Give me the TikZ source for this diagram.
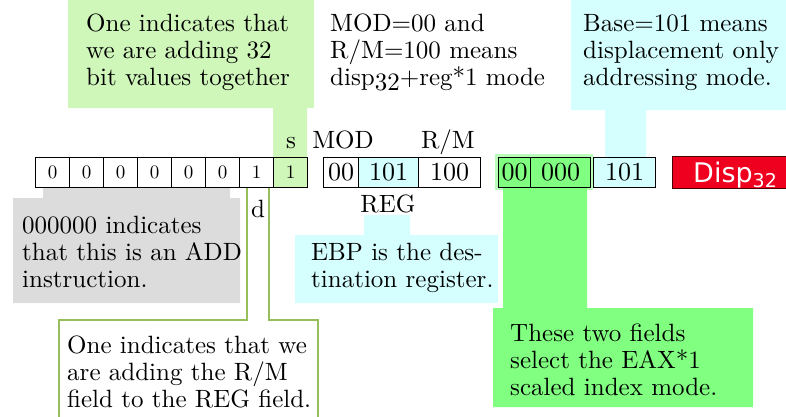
\documentclass[tikz,border=0pt]{standalone}
\usepackage{fontspec}
\setmainfont{lmroman10-regular.otf}[
  BoldFont=lmroman10-bold.otf, ItalicFont=lmroman10-italic.otf]
\newfontfamily\dispfont{DejaVu Sans}
\definecolor{palegreen}{RGB}{208,247,186}
\definecolor{brightgreen}{RGB}{128,255,128}
\definecolor{palecyan}{RGB}{213,255,255}
\definecolor{palegray}{RGB}{220,220,220}
\definecolor{dispred}{RGB}{238,0,30}
\definecolor{olive}{RGB}{150,190,90}
\tikzset{
  % multi-line notes are placed by the baseline of their last line
  note/.style={anchor=base west, inner sep=0pt, align=left,
    font=\fontsize{25}{27}\selectfont},
  lbl/.style={anchor=base, inner sep=0pt, font=\fontsize{25}{27}\selectfont},
  bitcell/.style={draw=black, line width=1.2pt, anchor=north west,
    minimum width=34pt, minimum height=30pt, inner sep=0pt,
    font=\fontsize{19}{20}\selectfont},
  fieldcell/.style={draw=black, line width=1.2pt, anchor=north west,
    minimum height=30pt, inner sep=0pt,
    font=\fontsize{26}{28}\selectfont},
}
\begin{document}
\begin{tikzpicture}[x=1pt,y=-1pt]
\useasboundingbox (0,0) rectangle (786,416);

% callout backgrounds
\fill[palegreen] (68,0) -- (314,0) -- (314,108) -- (307,108) -- (307,187)
  -- (273,187) -- (273,108) -- (68,108) -- cycle;
\fill[palecyan] (571,0) -- (786,0) -- (786,110) -- (646,110) -- (646,157)
  -- (605,157) -- (605,110) -- (571,110) -- cycle;
\fill[palecyan] (364,215) -- (410,215) -- (410,235) -- (498,235) -- (498,303)
  -- (295,303) -- (295,235) -- (364,235) -- cycle;
\fill[palegray] (43,187) -- (230,187) -- (230,198) -- (240,198) -- (240,303)
  -- (13,303) -- (13,198) -- (43,198) -- cycle;
\fill[brightgreen!55] (495,154) rectangle (593,190);
\fill[brightgreen] (503,187) -- (587,187) -- (587,308) -- (753,308)
  -- (753,407) -- (493,407) -- (493,308) -- (503,308) -- cycle;
\draw[olive, line width=2pt] (59,420) -- (59,320) -- (247,320) -- (247,187)
  (269,187) -- (269,320) -- (318,320) -- (318,420);

% opcode bits
\foreach \i/\b in {0/0,1/0,2/0,3/0,4/0,5/0,6/1}
  \node[bitcell] (bit\i) at ({35+34*\i},157) {\b};
\node[bitcell, fill=palegreen] (bit7) at (273,157) {1};

% ModR/M byte
\node[fieldcell, minimum width=35pt] (mod) at (323,157) {00};
\node[fieldcell, minimum width=60pt, fill=palecyan] (reg) at (358,157) {101};
\node[fieldcell, minimum width=62pt] (rm) at (418,157) {100};

% SIB byte
\node[fieldcell, minimum width=32pt, fill=brightgreen] (scale) at (498,157) {00};
\node[fieldcell, minimum width=60pt, fill=brightgreen] (index) at (530,157) {000};
\node[fieldcell, minimum width=62pt, fill=palecyan] (base) at (593,157) {101};

% displacement
\node[draw=black!70!red, line width=1pt, fill=dispred, anchor=north west,
  minimum width=130pt, minimum height=32pt, inner sep=0pt] (disp) at (672,156) {};
\node[anchor=base west, inner sep=0pt, text=white,
  font=\dispfont\fontsize{27}{28}\selectfont] (disptext) at (693,182)
  {Disp\raisebox{-5pt}{\fontsize{19}{20}\selectfont 32}};

% field labels
\node[lbl] (slbl) at (291,148) {s};
\node[lbl] (modlbl) at (343,148) {MOD};
\node[lbl] (rmlbl) at (448,148) {R/M};
\node[lbl] (reglbl) at (388,212) {REG};
\node[lbl] (dlbl) at (258,217) {d};

% explanatory notes
\node[note] (n1) at (86,85) {One indicates that\\we are adding 32\\bit values together};
\node[note] (n2) at (330,85) {MOD=00 and\\R/M=100 means\\disp\raisebox{-5pt}{32}+reg*1 mode};
\node[note] (n3) at (583,85) {Base=101 means\\displacement only\\addressing mode.};
\node[note] (n4) at (22,287) {000000 indicates\\that this is an ADD\\instruction.};
\node[note] (n5) at (311,287) {EBP is the des-\\tination register.};
\node[note] (n6) at (67,407) {One indicates that we\\are adding the R/M\\field to the REG field.};
\node[note] (n7) at (510,395) {These two fields\\select the EAX*1\\scaled index mode.};
\end{tikzpicture}
\end{document}
